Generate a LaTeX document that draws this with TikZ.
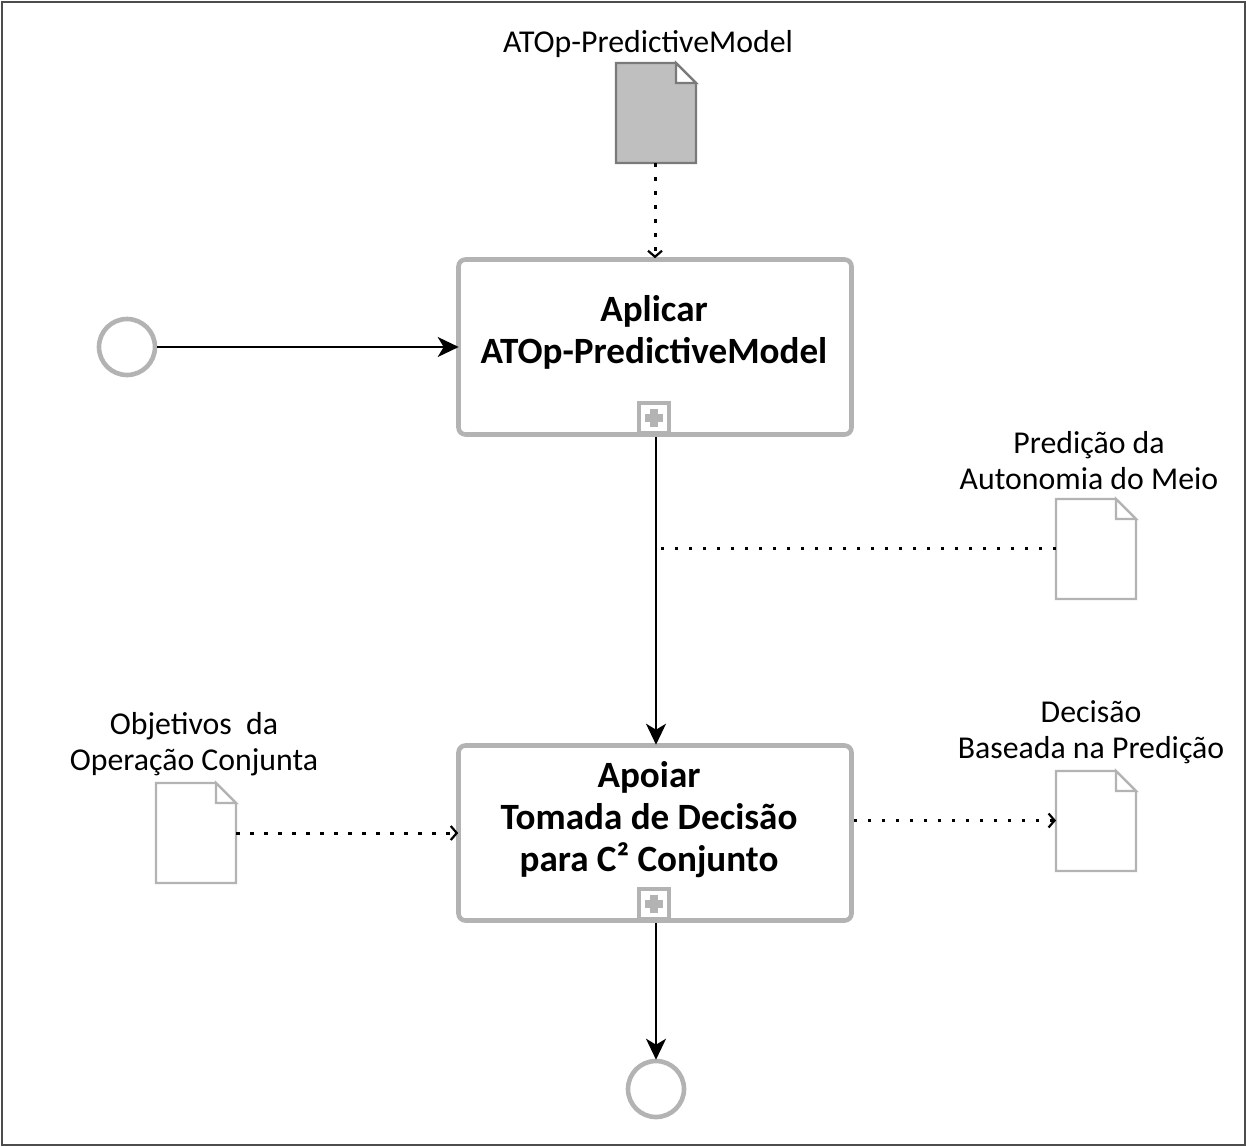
\documentclass[tikz,border=0pt]{standalone}
\usepackage{fontspec}
\setmainfont{Carlito}
\usetikzlibrary{arrows.meta}
\definecolor{gb}{HTML}{B3B3B3}
\definecolor{gd}{HTML}{7A7A7A}
\tikzset{
  x=1pt,y=-1pt,
  frame/.style={draw=black!70,line width=2pt},
  taskbox/.style={draw=gb,line width=4.6pt,rounded corners=7pt,fill=white,minimum width=393pt,minimum height=175pt,inner sep=0pt,align=center},
  tasktext/.style={align=center,font=\fontsize{37.1}{42}\selectfont\bfseries,inner sep=0pt},
  ev/.style={circle,draw=gb,line width=4.6pt,fill=white,minimum size=56pt,inner sep=0pt},
  plusbox/.style={draw=gb,line width=3.6pt,fill=white,minimum size=30pt,inner sep=0pt},
  docanchor/.style={minimum width=80pt,minimum height=100pt,inner sep=0pt,outer sep=0pt},
  lab/.style={align=center,font=\fontsize{31.8}{36}\selectfont,inner sep=0pt},
  flow/.style={draw=black,line width=2.2pt,-{Stealth[length=21pt,width=20pt,inset=6pt]}},
  assoc/.style={draw=black,line width=3pt,dash pattern=on 3.5pt off 10.5pt},
  assocarrow/.style={assoc,-{Straight Barb[length=6pt,width=14pt,line width=2.2pt]}},
}
\newcommand{\docshape}[4]{% name, x-centre, y-centre, colours
  \node[docanchor] (#1) at (#2,#3) {};
  \path[#4,line width=2.4pt,line join=miter] (#1.north west) -- ([xshift=-20pt]#1.north east) -- ([yshift=-20pt]#1.north east) -- (#1.south east) -- (#1.south west) -- cycle;
  \path[#4,fill=white,line width=2.4pt] ([xshift=-20pt]#1.north east) -- ([xshift=-20pt,yshift=-20pt]#1.north east) -- ([yshift=-20pt]#1.north east) -- cycle;
}
\begin{document}
\begin{tikzpicture}
\useasboundingbox (0,0) rectangle (1246,1146);
\node[frame,draw,minimum width=1243pt,minimum height=1143pt,inner sep=0pt] (outer) at (623,573.5) {};

\docshape{dmodel}{656}{113}{draw=gd,fill=black!25}
\docshape{dpred}{1096}{549}{draw=gb,fill=white}
\docshape{dobj}{196}{833}{draw=gb,fill=white}
\docshape{ddec}{1096}{821}{draw=gb,fill=white}

\node[lab] (lmodel) at (648,44) {ATOp-PredictiveModel};
\node[lab] (lpred) at (1089,461) {Predição da\\Autonomia do Meio};
\node[lab] (lobj) at (194,744) {Objetivos\ \ da\\Operação Conjunta};
\node[lab] (ldec) at (1091,732) {Decisão\\Baseada na Predição};

\node[taskbox] (t1) at (655,347) {};
\node[tasktext] (t1text) at (654,332) {Aplicar\\ATOp-PredictiveModel};
\node[taskbox] (t2) at (655,833) {};
\node[tasktext] (t2text) at (649,820) {Apoiar\\Tomada de Decisão\\para C² Conjunto};
\foreach \n/\yy in {p1/418,p2/904}{
  \node[plusbox] (\n) at (654,\yy) {};
  \fill[gb] (650,\yy-9) rectangle (658,\yy+9);
  \fill[gb] (645,\yy-4) rectangle (663,\yy+4);
}
\node[ev] (start) at (127,347) {};
\node[ev] (end) at (656,1089) {};

\coordinate (jn) at (660,548);
\draw[flow,shorten >=-2.5pt] (start) -- (t1);
\draw[flow,shorten >=-1.5pt] (t1.south -| 656,0) -- (t2.north -| 656,0);
\draw[flow,shorten >=-1pt] (t2.south -| 656,0) -- (end.north);
\draw[assocarrow,shorten >=-1pt] (dmodel.south -| 655,0) -- (t1.north -| 655,0);
\draw[assoc] (dpred.west |- jn) -- (jn);
\draw[assocarrow,shorten >=-2pt] (dobj.east) -- (t2.west);
\draw[assocarrow] (t2.east |- 0,820.5) -- (ddec.west |- 0,820.5);
\end{tikzpicture}
\end{document}
